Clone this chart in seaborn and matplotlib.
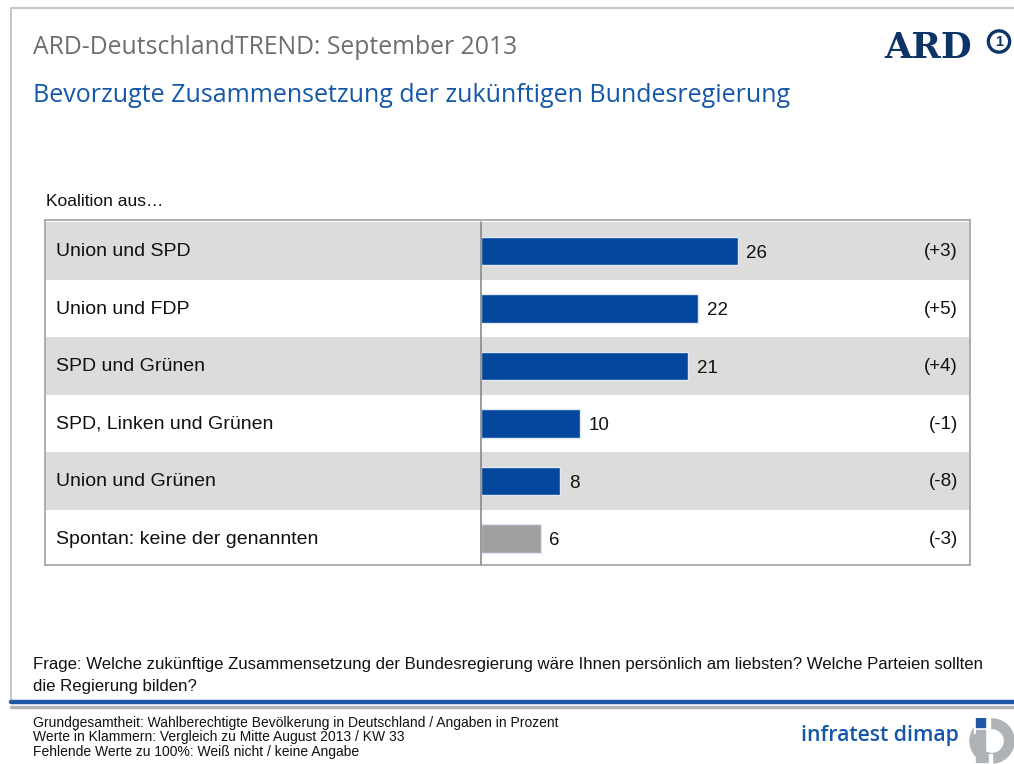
import matplotlib
matplotlib.use("Agg")
import matplotlib.pyplot as plt
import seaborn as sns
import pandas as pd
from matplotlib.patches import Rectangle, Wedge
from matplotlib.lines import Line2D

# data
koalitionen = ["Union und SPD", "Union und FDP", "SPD und Grünen",
               "SPD, Linken und Grünen", "Union und Grünen",
               "Spontan: keine der genannten"]
werte = [26, 22, 21, 10, 8, 6]
veraenderung = ["(+3)", "(+5)", "(+4)", "(-1)", "(-8)", "(-3)"]
farben = ["#02479b", "#02479b", "#02479b", "#02479b", "#02479b", "#a0a0a0"]

df = pd.DataFrame({"koalition": koalitionen, "wert": werte})

sns.set_theme(style="white")
plt.rcParams["font.family"] = ["Liberation Sans", "DejaVu Sans"]

W, H = 1014, 764
fig = plt.figure(figsize=(W / 100, H / 100), dpi=100)
fig.patch.set_facecolor("white")

def fx(px):
    return px / W

def fy(py):
    return 1 - py / H

# slide frame
fig.add_artist(Line2D([fx(11), fx(11)], [fy(8), fy(700)], color="#c8c8c8", lw=1.5))
fig.add_artist(Line2D([fx(11), 1], [fy(8), fy(8)], color="#c8c8c8", lw=1.5))

# header
fig.text(fx(33), fy(48), "ARD-DeutschlandTREND: September 2013", fontsize=17.8,
         color="#6e6e6e", family=["Open Sans", "DejaVu Sans"], va="center", ha="left")
fig.text(fx(33), fy(95), "Bevorzugte Zusammensetzung der zukünftigen Bundesregierung",
         fontsize=18, color="#1457a8", family=["Open Sans", "DejaVu Sans"],
         va="center", ha="left")
fig.text(fx(884), fy(58), "ARD", fontsize=25.5, fontweight="bold", color="#0c3466",
         family=["DejaVu Serif"], va="baseline", ha="left")
fig.text(fx(999), fy(41.5), "1", fontsize=10.5, fontweight="bold", color="#0c3466",
         ha="center", va="center",
         bbox=dict(boxstyle="circle,pad=0.25", facecolor="white",
                   edgecolor="#0c3466", lw=2.4))

fig.text(fx(46), fy(201), "Koalition aus…", fontsize=12.5, color="#111111",
         va="center", ha="left")

# chart
ax = fig.add_axes([fx(45), fy(565), fx(970) - fx(45), (565 - 220) / H])
n = len(koalitionen)
for i in range(n):
    if i % 2 == 0:
        ax.axhspan(i - 0.5, i + 0.5, color="#dcdcdc", zorder=0, lw=0)

sns.barplot(data=df, x="wert", y="koalition", hue="koalition", palette=farben,
            legend=False, orient="h", width=0.49, saturation=1, ax=ax, zorder=3,
            edgecolor="#dfe8f5", linewidth=1)
for p in ax.patches:
    p.set_y(p.get_y() + 0.04)

ax.set_xlim(-44.3, 49.6)
ax.set_ylim(n - 0.5, -0.5)
ax.axvline(0, color="#8a8a8a", lw=1.2, zorder=4, ymax=0.995)
ax.set_xticks([])
ax.set_yticks([])
ax.set_xlabel("")
ax.set_ylabel("")
for s in ax.spines.values():
    s.set_color("#a8a8a8")
    s.set_linewidth(1.3)

for i, (name, v, d) in enumerate(zip(koalitionen, werte, veraenderung)):
    ax.text(0.012, i + 0.05, name, transform=ax.get_yaxis_transform(), fontsize=14,
            color="#111111", va="center", ha="left")
    ax.text(v + 0.9, i + 0.08, str(v), fontsize=13.5, color="#111111",
            va="center", ha="left")
    ax.text(0.987, i + 0.05, d, transform=ax.get_yaxis_transform(), fontsize=13.5,
            color="#111111", va="center", ha="right")

# footer
fig.text(fx(33), fy(664), "Frage: Welche zukünftige Zusammensetzung der Bundesregierung wäre Ihnen persönlich am liebsten? Welche Parteien sollten",
         fontsize=12.1, color="#111111", va="center", ha="left")
fig.text(fx(33), fy(686), "die Regierung bilden?", fontsize=12.1, color="#111111",
         va="center", ha="left")
fig.add_artist(Line2D([fx(11), 1], [fy(702), fy(702)], color="#1f57a6", lw=3.2))
fig.add_artist(Line2D([fx(11), 1], [fy(706.5), fy(706.5)], color="#b4b4b4", lw=2.5))

fuss = ["Grundgesamtheit: Wahlberechtigte Bevölkerung in Deutschland / Angaben in Prozent",
        "Werte in Klammern: Vergleich zu Mitte August 2013 / KW 33",
        "Fehlende Werte zu 100%: Weiß nicht / keine Angabe"]
for k, t in enumerate(fuss):
    fig.text(fx(33), fy(723 + 14.5 * k), t, fontsize=10, color="#111111",
             family=["Liberation Sans Narrow", "Liberation Sans"],
             va="center", ha="left")

fig.text(fx(801), fy(736), "infratest dimap", fontsize=15.3, color="#1457a8",
         fontweight="semibold", family=["Open Sans", "DejaVu Sans"],
         va="center", ha="left")

# logo mark
ax_logo = fig.add_axes([fx(968), fy(764), fx(46), 46 / H])
ax_logo.set_xlim(0, 46)
ax_logo.set_ylim(46, 0)
ax_logo.set_aspect("equal")
ax_logo.axis("off")
ax_logo.add_patch(Wedge((24, 23), 22, 0, 360, width=9.5, color="#aeb3b8"))
ax_logo.add_patch(Rectangle((6, 0), 16, 15, color="white"))
ax_logo.add_patch(Rectangle((8, 0), 9, 9, color="#1f57a6"))
ax_logo.add_patch(Rectangle((8, 12), 9, 32, color="#aeb3b8"))
ax_logo.add_patch(Rectangle((21, 36), 3, 10, color="white"))

fig.savefig("out.png", dpi=100)
